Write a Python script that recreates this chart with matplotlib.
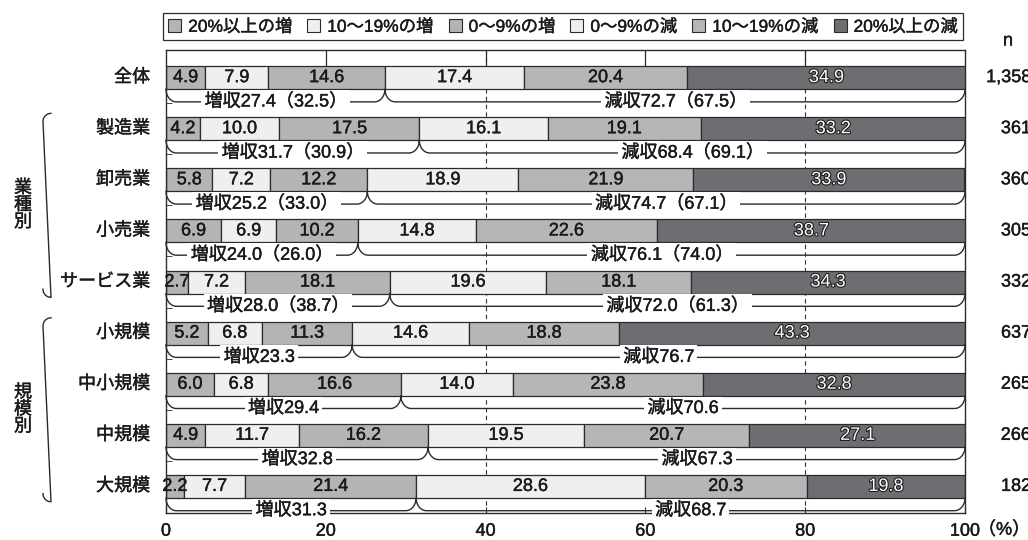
import numpy as np
import matplotlib
matplotlib.use('Agg')
import matplotlib.pyplot as plt
import matplotlib.patheffects as pe
from matplotlib.patches import Patch
from matplotlib.transforms import blended_transform_factory

plt.rcParams['font.family'] = ['Liberation Sans', 'Noto Sans CJK JP']

# 売上高の増減割合（%）
categories = ['全体', '製造業', '卸売業', '小売業', 'サービス業', '小規模', '中小規模', '中規模', '大規模']
inc20 = [4.9, 4.2, 5.8, 6.9, 2.7, 5.2, 6.0, 4.9, 2.2]
inc10 = [7.9, 10.0, 7.2, 6.9, 7.2, 6.8, 6.8, 11.7, 7.7]
inc0 = [14.6, 17.5, 12.2, 10.2, 18.1, 11.3, 16.6, 16.2, 21.4]
dec0 = [17.4, 16.1, 18.9, 14.8, 19.6, 14.6, 14.0, 19.5, 28.6]
dec10 = [20.4, 19.1, 21.9, 22.6, 18.1, 18.8, 23.8, 20.7, 20.3]
dec20 = [34.9, 33.2, 33.9, 38.7, 34.3, 43.3, 32.8, 27.1, 19.8]
inc_total = [27.4, 31.7, 25.2, 24.0, 28.0, 23.3, 29.4, 32.8, 31.3]
dec_total = [72.7, 68.4, 74.7, 76.1, 72.0, 76.7, 70.6, 67.3, 68.7]
prev_inc = ['32.5', '30.9', '33.0', '26.0', '38.7', None, None, None, None]
prev_dec = ['67.5', '69.1', '67.1', '74.0', '61.3', None, None, None, None]
n_values = ['1,358', '361', '360', '305', '332', '637', '265', '266', '182']
legend_labels = ['20%以上の増', '10～19%の増', '0～9%の増', '0～9%の減', '10～19%の減', '20%以上の減']
groups = [('業\n種\n別', 1, 4), ('規\n模\n別', 5, 8)]

seg_colors = ['#b4b4b6', '#efeff1', '#b4b4b6', '#efeff1', '#b6b6b8', '#6d6e72']
edge = '#2b2b2b'
ink = '#1a1a1a'
FS = 13
# 文字を少し太く見せる
heavy = [pe.withStroke(linewidth=0.3, foreground=ink)]

fig = plt.figure(figsize=(10.28, 5.4), dpi=100)
ax = fig.add_axes([166 / 1028, 27 / 540, 799 / 1028, 463 / 540])

series = [inc20, inc10, inc0, dec0, dec10, dec20]
y = np.arange(len(categories))
bar_h = 0.45
left = np.zeros(len(categories))
for k, vals in enumerate(series):
    vals = np.array(vals)
    ax.barh(y, vals, left=left, height=bar_h, color=seg_colors[k],
            edgecolor=edge, linewidth=0.9, zorder=2)
    for i, v in enumerate(vals):
        cx = left[i] + v / 2
        if k == 5:
            ax.text(cx, y[i], f'{v:.1f}', ha='center', va='center', fontsize=FS,
                    color='white', zorder=4,
                    path_effects=[pe.withStroke(linewidth=1.6, foreground='#1e1e1e')])
        else:
            ax.text(cx, y[i], f'{v:.1f}', ha='center', va='center', fontsize=FS,
                    color=ink, zorder=4, path_effects=heavy)
    left += vals

# 増収・減収の括弧
drop = 0.25
rx = 1.3
t = np.linspace(0, np.pi / 2, 20)
for i in range(len(categories)):
    bb = y[i] + bar_h / 2
    by = bb + drop
    s = inc_total[i]
    xs = np.concatenate([
        rx - rx * np.sin(t[::-1]),
        s - rx + rx * np.sin(t),
        s + rx - rx * np.sin(t[::-1]),
        100 - rx + rx * np.sin(t),
    ])
    ys = np.concatenate([
        bb + drop * np.cos(t[::-1]),
        bb + drop * np.cos(t),
        bb + drop * np.cos(t[::-1]),
        bb + drop * np.cos(t),
    ])
    ax.plot(xs, ys, color=edge, lw=1.0, zorder=3, clip_on=False)

    lab_i = f'増収{inc_total[i]:.1f}'
    lab_d = f'減収{dec_total[i]:.1f}'
    if prev_inc[i]:
        lab_i += f'（{prev_inc[i]}）'
        lab_d += f'（{prev_dec[i]}）'
    box = dict(facecolor='white', edgecolor='none', pad=2.5)
    ax.text(s / 2, by, lab_i, ha='center', va='center', fontsize=FS,
            color=ink, bbox=box, zorder=4, path_effects=heavy)
    ax.text(s + dec_total[i] / 2, by, lab_d, ha='center', va='center', fontsize=FS,
            color=ink, bbox=box, zorder=4, path_effects=heavy)

ax.set_xlim(0, 100)
ax.set_ylim(8.52, -0.54)

# 目盛と補助線
for gx in (40, 80):
    ax.axvline(gx, color='#333333', lw=0.8, dashes=(4, 3), zorder=1)
ax.set_xticks([0, 20, 40, 60, 80, 100])
ax.tick_params(axis='x', direction='in', length=4, labelsize=FS, pad=7,
               color=edge, labelcolor=ink)
for lb in ax.get_xticklabels():
    lb.set_path_effects(heavy)
xb = blended_transform_factory(ax.transData, ax.transAxes)
ax.vlines([20, 40, 60, 80], 1 - 16 / 463, 1, transform=xb, color=edge, lw=0.9)
ax.set_yticks([])
ax.set_yticks(y[:-1] + 0.5, minor=True)
ax.tick_params(axis='y', which='minor', direction='in', length=4, color=edge)
ax.yaxis.set_tick_params(which='minor', labelleft=False)
for sp in ax.spines.values():
    sp.set_linewidth(1.0)
    sp.set_color(edge)

yb = blended_transform_factory(ax.transAxes, ax.transData)
for i, c in enumerate(categories):
    ax.text(-0.02, y[i], c, transform=yb, ha='right', va='center', fontsize=FS,
            color=ink, path_effects=heavy)
    ax.text(1.0826, y[i], n_values[i], transform=yb, ha='right', va='center',
            fontsize=FS, color=ink, path_effects=heavy)
ax.text((1008 - 166) / 799, 1 + 9 / 463, 'n', transform=ax.transAxes,
        ha='center', va='center', fontsize=FS, color=ink, path_effects=heavy)
ax.text((1004 - 166) / 799, -17 / 463, '（%）', transform=ax.transAxes,
        ha='center', va='center', fontsize=FS, color=ink, path_effects=heavy)

# 業種別・規模別の括弧
px = 1 / 799
for label, g0, g1 in groups:
    top = g0 - 0.16 - 0.14
    bot = g1 + 0.14 + 0.16
    ctop = np.column_stack([43 * px - 166 * px + 8 * px * (1 - np.cos(t)),
                            top + 0.16 - 0.16 * np.sin(t)])
    cbot = np.column_stack([43 * px - 166 * px + 8 * px * (1 - np.cos(t[::-1])),
                            bot - 0.16 + 0.16 * np.sin(t[::-1])])
    path = np.vstack([ctop[::-1], cbot])
    ax.plot(path[:, 0], path[:, 1], transform=yb, color=edge, lw=1.0,
            clip_on=False)
    ax.text((23 - 166) * px, (g0 + g1) / 2, label, transform=yb, ha='center',
            va='center', fontsize=FS, linespacing=1.0, color=ink,
            path_effects=heavy)

handles = [Patch(facecolor=c, edgecolor=edge, linewidth=0.8) for c in seg_colors]
leg = ax.legend(handles, legend_labels, ncol=6, mode='expand', loc='lower left',
                bbox_to_anchor=(-3 / 799, 1 + 10 / 463, 800 / 799, 30 / 463),
                fontsize=12.5, handlelength=0.75, handleheight=0.75,
                handletextpad=0.4, borderpad=0.3, fancybox=False,
                framealpha=1, edgecolor=edge, borderaxespad=0)
leg.get_frame().set_linewidth(0.9)
for txt in leg.get_texts():
    txt.set_color(ink)
    txt.set_path_effects(heavy)

fig.savefig('out.png', dpi=100)
